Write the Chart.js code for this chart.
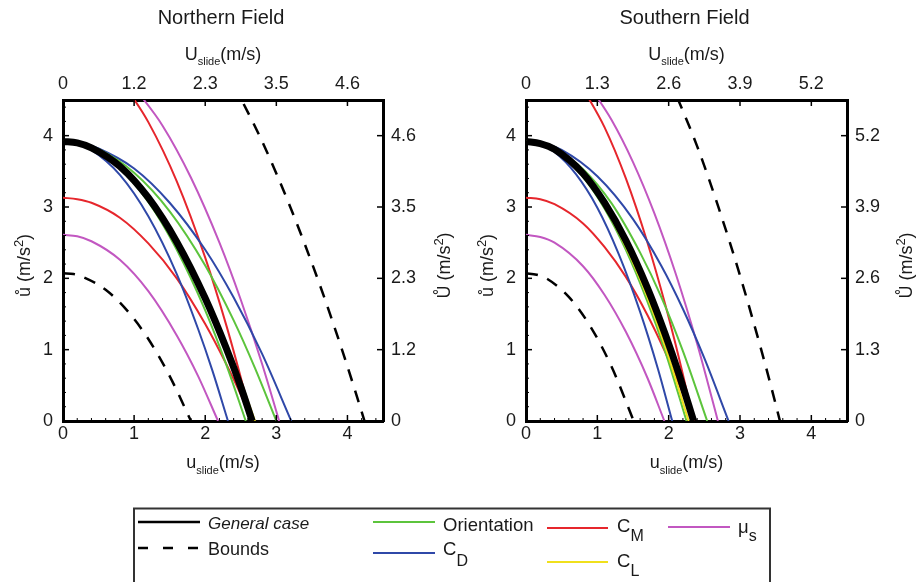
<!DOCTYPE html>
<html><head><meta charset="utf-8">
<script src="https://cdn.jsdelivr.net/npm/chart.js@4.4.1/dist/chart.umd.min.js"></script>
<style>
html,body{margin:0;padding:0;background:#fff;width:917px;height:582px;overflow:hidden;}
#cN{position:absolute;left:0;top:0;}
#cS{position:absolute;left:458px;top:0;}
#leg{position:absolute;left:0;top:0;}
</style></head>
<body>
<canvas id="cN" width="458" height="482"></canvas>
<canvas id="cS" width="459" height="482"></canvas>
<svg id="leg" width="917" height="582" xmlns="http://www.w3.org/2000/svg" font-family="'Liberation Sans', Arial, Helvetica, sans-serif" fill="#1a1a1a">
  <rect x="134" y="508.5" width="636" height="120" fill="none" stroke="#333" stroke-width="2"/>
  <line x1="138" y1="522" x2="200" y2="522" stroke="#000" stroke-width="2.6"/>
  <text x="208" y="529" font-size="17" font-style="italic">General case</text>
  <line x1="138" y1="548" x2="200" y2="548" stroke="#000" stroke-width="2.6" stroke-dasharray="10 15"/>
  <text x="208" y="555" font-size="18">Bounds</text>
  <line x1="373" y1="522" x2="435" y2="522" stroke="#5cc43c" stroke-width="2"/>
  <text x="443" y="531" font-size="18.5">Orientation</text>
  <line x1="373" y1="553" x2="435" y2="553" stroke="#2f48a8" stroke-width="2"/>
  <text x="443" y="555" font-size="18.5">C<tspan font-size="16" dy="11">D</tspan></text>
  <line x1="547" y1="528" x2="608" y2="528" stroke="#e6262c" stroke-width="2"/>
  <text x="617" y="532" font-size="18.5">C<tspan font-size="16" dy="9">M</tspan></text>
  <line x1="547" y1="562" x2="608" y2="562" stroke="#f0e01c" stroke-width="2"/>
  <text x="617" y="567" font-size="18.5">C<tspan font-size="16" dy="9">L</tspan></text>
  <line x1="668" y1="527" x2="730" y2="527" stroke="#c257c1" stroke-width="2"/>
  <text x="738" y="533" font-size="18.5">μ<tspan font-size="16" dy="8">s</tspan></text>
</svg>
<script>
// ---------- tick values / labels ----------
const bottomTicks = [0, 1, 2, 3, 4];
const leftTicks = [0, 1, 2, 3, 4];
const northTopLabels = ['0', '1.2', '2.3', '3.5', '4.6'];
const northRightLabels = ['0', '1.2', '2.3', '3.5', '4.6'];
const southTopLabels = ['0', '1.3', '2.6', '3.9', '5.2'];
const southRightLabels = ['0', '1.3', '2.6', '3.9', '5.2'];

// ---------- Northern Field (u_slide, u-dot) ----------
const nGenU = [0, 0.2, 0.4, 0.8, 1.2, 1.6, 2.0, 2.3, 2.5, 2.66];
const nGenA = [3.92, 3.90, 3.83, 3.57, 3.13, 2.51, 1.72, 1.01, 0.48, 0];
const nBndLoU = [0, 0.15, 0.3, 0.6, 0.9, 1.2, 1.5, 1.8];
const nBndLoA = [2.07, 2.06, 2.01, 1.84, 1.55, 1.15, 0.63, 0];
const nBndHiU = [2.4, 2.8, 3.2, 3.6, 3.9, 4.1, 4.24];
const nBndHiA = [4.72, 3.92, 2.99, 1.94, 1.07, 0.45, 0];
const nOriLoU = [0, 0.2, 0.4, 0.8, 1.2, 1.6, 2.0, 2.3, 2.57];
const nOriLoA = [3.92, 3.90, 3.83, 3.54, 3.07, 2.40, 1.55, 0.78, 0];
const nOriHiU = [0, 0.25, 0.5, 1.0, 1.5, 2.0, 2.4, 2.7, 3.0];
const nOriHiA = [3.92, 3.89, 3.81, 3.48, 2.94, 2.18, 1.41, 0.74, 0];
const nCdLoU = [0, 0.2, 0.4, 0.8, 1.2, 1.6, 1.9, 2.1, 2.32];
const nCdLoA = [3.92, 3.89, 3.80, 3.45, 2.87, 2.06, 1.29, 0.71, 0];
const nCdHiU = [0, 0.25, 0.5, 1.0, 1.5, 2.0, 2.4, 2.8, 3.21];
const nCdHiA = [3.92, 3.90, 3.82, 3.54, 3.06, 2.40, 1.73, 0.94, 0];
const nCmLoU = [0, 0.2, 0.4, 0.8, 1.2, 1.6, 2.0, 2.3, 2.5, 2.66];
const nCmLoA = [3.13, 3.11, 3.06, 2.85, 2.49, 2.00, 1.36, 0.79, 0.37, 0];
const nCmHiU = [0.9, 1.2, 1.6, 2.0, 2.3, 2.5, 2.66];
const nCmHiA = [4.66, 4.19, 3.36, 2.29, 1.33, 0.61, 0];
const nClU = [0, 0.2, 0.4, 0.8, 1.2, 1.6, 2.0, 2.3, 2.5, 2.70];
const nClA = [3.92, 3.90, 3.83, 3.58, 3.15, 2.54, 1.77, 1.08, 0.56, 0];
const nMuLoU = [0, 0.2, 0.4, 0.8, 1.2, 1.6, 1.9, 2.18];
const nMuLoA = [2.61, 2.59, 2.52, 2.26, 1.82, 1.20, 0.63, 0];
const nMuHiU = [1.0, 1.4, 1.8, 2.2, 2.5, 2.8, 3.04];
const nMuHiA = [4.68, 4.14, 3.41, 2.50, 1.70, 0.80, 0];

// ---------- Southern Field ----------
const sGenU = [0, 0.2, 0.4, 0.8, 1.1, 1.4, 1.7, 1.95, 2.15, 2.35];
const sGenA = [3.92, 3.89, 3.81, 3.47, 3.06, 2.53, 1.87, 1.22, 0.64, 0];
const sBndLoU = [0, 0.15, 0.3, 0.6, 0.9, 1.2, 1.51];
const sBndLoA = [2.07, 2.05, 1.99, 1.74, 1.33, 0.76, 0];
const sBndHiU = [2.0, 2.4, 2.7, 3.0, 3.3, 3.45, 3.56];
const sBndHiA = [4.82, 3.85, 2.99, 2.04, 0.99, 0.43, 0];
const sOriLoU = [0, 0.2, 0.4, 0.8, 1.1, 1.4, 1.7, 1.95, 2.25];
const sOriLoA = [3.92, 3.89, 3.80, 3.42, 2.98, 2.40, 1.68, 0.98, 0];
const sOriHiU = [0, 0.2, 0.4, 0.8, 1.2, 1.6, 1.9, 2.2, 2.54];
const sOriHiA = [3.92, 3.90, 3.82, 3.53, 3.05, 2.36, 1.73, 0.98, 0];
const sCdLoU = [0, 0.2, 0.4, 0.7, 1.0, 1.3, 1.6, 1.85, 2.05];
const sCdLoA = [3.92, 3.88, 3.77, 3.46, 2.99, 2.34, 1.53, 0.73, 0];
const sCdHiU = [0, 0.25, 0.5, 1.0, 1.5, 1.9, 2.2, 2.5, 2.84];
const sCdHiA = [3.92, 3.89, 3.80, 3.43, 2.83, 2.17, 1.57, 0.88, 0];
const sCmLoU = [0, 0.2, 0.4, 0.8, 1.1, 1.4, 1.7, 1.95, 2.15, 2.35];
const sCmLoA = [3.13, 3.11, 3.04, 2.77, 2.44, 2.02, 1.49, 0.97, 0.51, 0];
const sCmHiU = [0.8, 1.1, 1.4, 1.7, 1.95, 2.15, 2.35];
const sCmHiA = [4.66, 4.12, 3.40, 2.51, 1.64, 0.86, 0];
const sClU = [0, 0.2, 0.4, 0.8, 1.1, 1.4, 1.7, 1.95, 2.28];
const sClA = [3.92, 3.89, 3.80, 3.44, 3.01, 2.44, 1.74, 1.05, 0];
const sMuLoU = [0, 0.2, 0.4, 0.8, 1.1, 1.4, 1.7, 1.94];
const sMuLoA = [2.61, 2.58, 2.50, 2.17, 1.77, 1.25, 0.61, 0];
const sMuHiU = [0.9, 1.2, 1.5, 1.8, 2.1, 2.4, 2.55, 2.69];
const sMuHiA = [4.68, 4.22, 3.63, 2.91, 2.06, 1.08, 0.53, 0];

// ---------- styling ----------
const FONT = "'Liberation Sans', Arial, Helvetica, sans-serif";
const TXT = '#1a1a1a';
const COL = {gen: '#000000', ori: '#5cc43c', cd: '#2f48a8', cm: '#e6262c', cl: '#f0e01c', mu: '#c257c1'};

function pts(u, a) { return u.map((x, i) => ({x: x, y: a[i]})); }
function ds(label, u, a, color, width, dash) {
  return {label, data: pts(u, a), borderColor: color, borderWidth: width, borderDash: dash || [],
          pointRadius: 0, fill: false, tension: 0.4, cubicInterpolationMode: 'monotone',
          borderCapStyle: 'butt', borderJoinStyle: 'round'};
}

function drawComposite(ctx, parts, x, y) {
  let total = 0;
  parts.forEach(p => { ctx.font = p.size + 'px ' + FONT; p.w = ctx.measureText(p.t).width; total += p.w; });
  let cx = x - total / 2;
  ctx.textAlign = 'left'; ctx.textBaseline = 'alphabetic';
  parts.forEach(p => { ctx.font = p.size + 'px ' + FONT; ctx.fillText(p.t, cx, y + p.dy); cx += p.w; });
}

function makePlugin(title, rightOff) {
  return {
    id: 'deco',
    afterDraw(chart) {
      const ctx = chart.ctx, ca = chart.chartArea;
      const sx = chart.scales.x, sy = chart.scales.y;
      ctx.save();
      ctx.strokeStyle = '#000'; ctx.lineWidth = 1.5;
      const seg = (x1, y1, x2, y2) => { ctx.beginPath(); ctx.moveTo(x1, y1); ctx.lineTo(x2, y2); ctx.stroke(); };
      bottomTicks.forEach(v => { const p = sx.getPixelForValue(v); seg(p, ca.bottom, p, ca.bottom - 6); seg(p, ca.top, p, ca.top + 6); });
      leftTicks.forEach(v => { const p = sy.getPixelForValue(v); seg(ca.left, p, ca.left + 6, p); seg(ca.right, p, ca.right - 6, p); });
      ctx.lineWidth = 1;
      for (let k = 1; k < 23; k++) {
        if (k % 5 === 0) continue;
        const v = k * 0.2;
        const px = sx.getPixelForValue(v); seg(px, ca.bottom, px, ca.bottom - 3);
        const py = sy.getPixelForValue(v); seg(ca.left, py, ca.left + 3, py);
      }
      ctx.fillStyle = TXT;
      const cx = (ca.left + ca.right) / 2;
      ctx.font = '20px ' + FONT; ctx.textAlign = 'center'; ctx.textBaseline = 'alphabetic';
      ctx.fillText(title, cx - 2, 24);
      drawComposite(ctx, [{t: 'U', size: 18, dy: 0}, {t: 'slide', size: 11, dy: 5}, {t: '(m/s)', size: 18, dy: 0}], cx, 60);
      drawComposite(ctx, [{t: 'u', size: 18, dy: 0}, {t: 'slide', size: 11, dy: 6}, {t: '(m/s)', size: 18, dy: 0}], cx, 468);
      const cy = (ca.top + ca.bottom) / 2 + 5;
      ctx.save(); ctx.translate(ca.left - 33, cy); ctx.rotate(-Math.PI / 2);
      drawComposite(ctx, [{t: 'ů (m/s', size: 18, dy: 0}, {t: '2', size: 13, dy: -7}, {t: ')', size: 18, dy: 0}], 0, 0);
      ctx.restore();
      ctx.save(); ctx.translate(ca.right + rightOff, cy); ctx.rotate(-Math.PI / 2);
      drawComposite(ctx, [{t: 'Ů (m/s', size: 18, dy: 0}, {t: '2', size: 13, dy: -7}, {t: ')', size: 18, dy: 0}], 0, 0);
      ctx.restore();
      ctx.restore();
    }
  };
}

function axis(pos, labels, ticksArr, fitSize, pad) {
  const horiz = (pos === 'top' || pos === 'bottom');
  return {
    type: 'linear', position: pos, min: 0, max: 4.5,
    afterBuildTicks: s => { s.ticks = ticksArr.map(v => ({value: v})); },
    afterFit: s => { if (horiz) s.height = fitSize; else s.width = fitSize; },
    ticks: {font: {size: 18, family: FONT}, color: TXT, padding: pad, autoSkip: false, maxRotation: 0,
            callback: (v, i) => labels ? labels[i] : String(v)},
    grid: {display: true, drawOnChartArea: false, drawTicks: false, color: '#000'},
    border: {display: true, width: 3, color: '#000'}
  };
}

function makeChart(id, title, dsets, topL, rightL, leftW, rightW, rightOff) {
  return new Chart(document.getElementById(id), {
    type: 'line',
    data: {datasets: dsets},
    options: {
      responsive: false, animation: false, devicePixelRatio: 1, events: [],
      layout: {padding: 0, autoPadding: false},
      plugins: {legend: {display: false}, tooltip: {enabled: false}, title: {display: false}},
      scales: {
        x: axis('bottom', null, bottomTicks, 61, 2),
        x2: axis('top', topL, bottomTicks, 100, 5),
        y: axis('left', null, leftTicks, leftW, 10),
        y2: axis('right', rightL, leftTicks, rightW, 8)
      }
    },
    plugins: [makePlugin(title, rightOff)]
  });
}

const northSets = [
  ds('General case', nGenU, nGenA, COL.gen, 7),
  ds('Bounds low', nBndLoU, nBndLoA, COL.gen, 2.5, [12, 10]),
  ds('Bounds high', nBndHiU, nBndHiA, COL.gen, 2.5, [12, 10]),
  ds('C_L', nClU, nClA, COL.cl, 2),
  ds('Orientation low', nOriLoU, nOriLoA, COL.ori, 2),
  ds('Orientation high', nOriHiU, nOriHiA, COL.ori, 2),
  ds('C_D low', nCdLoU, nCdLoA, COL.cd, 2),
  ds('C_D high', nCdHiU, nCdHiA, COL.cd, 2),
  ds('C_M low', nCmLoU, nCmLoA, COL.cm, 2),
  ds('C_M high', nCmHiU, nCmHiA, COL.cm, 2),
  ds('mu_s low', nMuLoU, nMuLoA, COL.mu, 2),
  ds('mu_s high', nMuHiU, nMuHiA, COL.mu, 2)
];
const southSets = [
  ds('General case', sGenU, sGenA, COL.gen, 7),
  ds('Bounds low', sBndLoU, sBndLoA, COL.gen, 2.5, [12, 10]),
  ds('Bounds high', sBndHiU, sBndHiA, COL.gen, 2.5, [12, 10]),
  ds('C_L', sClU, sClA, COL.cl, 2),
  ds('Orientation low', sOriLoU, sOriLoA, COL.ori, 2),
  ds('Orientation high', sOriHiU, sOriHiA, COL.ori, 2),
  ds('C_D low', sCdLoU, sCdLoA, COL.cd, 2),
  ds('C_D high', sCdHiU, sCdHiA, COL.cd, 2),
  ds('C_M low', sCmLoU, sCmLoA, COL.cm, 2),
  ds('C_M high', sCmHiU, sCmHiA, COL.cm, 2),
  ds('mu_s low', sMuLoU, sMuLoA, COL.mu, 2),
  ds('mu_s high', sMuHiU, sMuHiA, COL.mu, 2)
];

makeChart('cN', 'Northern Field', northSets, northTopLabels, northRightLabels, 63, 75, 67);
makeChart('cS', 'Southern Field', southSets, southTopLabels, southRightLabels, 68, 70, 65);
</script>
</body></html>
